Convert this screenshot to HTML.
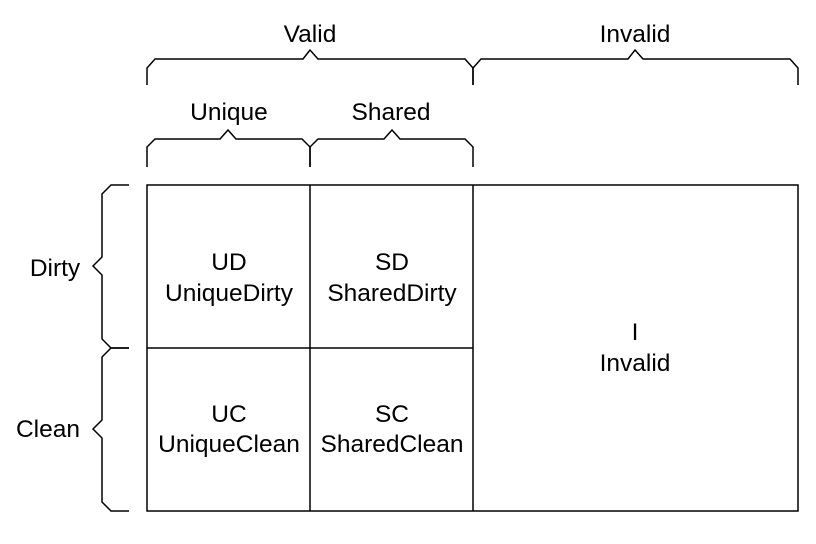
<!DOCTYPE html>
<html><head><style>body{margin:0;background:#fff}svg{display:block}</style></head>
<body>
<svg width="816" height="544" viewBox="0 0 816 544" xmlns="http://www.w3.org/2000/svg" font-family="Liberation Sans, Arial, sans-serif" font-size="24.5" fill="#000">
<g fill="none" stroke="#000" stroke-width="1.5">
<rect x="147" y="185" width="651" height="326"/>
<line x1="310" y1="185" x2="310" y2="511"/>
<line x1="473" y1="185" x2="473" y2="511"/>
<line x1="147" y1="348" x2="473" y2="348"/>
<path d="M147,85 V68 L155,59 H303 L310,50 L318,59 H465 L473,68 V85"/>
<path d="M473,85 V68 L481,59 H628 L635,50 L643,59 H790 L798,68 V85"/>
<path d="M147,167 V147 L155,139 H220 L228,130 L236,139 H302 L310,147 V167"/>
<path d="M310,167 V147 L318,139 H384 L392,130 L400,139 H465 L473,147 V167"/>
<path d="M129,185 H111 L102,194 V257 L93,266 L102,275 V339 L111,348 H129"/>
<path d="M129,348 H111 L102,357 V420 L93,429 L102,438 V502 L111,511 H129"/>
</g>
<g text-anchor="middle">
<text x="310" y="42">Valid</text>
<text x="635" y="42">Invalid</text>
<text x="229" y="120">Unique</text>
<text x="391" y="120">Shared</text>
<text x="229" y="270">UD</text>
<text x="229" y="301">UniqueDirty</text>
<text x="392" y="270">SD</text>
<text x="392" y="301">SharedDirty</text>
<text x="229" y="422">UC</text>
<text x="229" y="452">UniqueClean</text>
<text x="392" y="422">SC</text>
<text x="392" y="452">SharedClean</text>
<text x="635" y="340">I</text>
<text x="635" y="371">Invalid</text>
<text x="55" y="276">Dirty</text>
<text x="48" y="437">Clean</text>
</g>
</svg>
</body></html>
